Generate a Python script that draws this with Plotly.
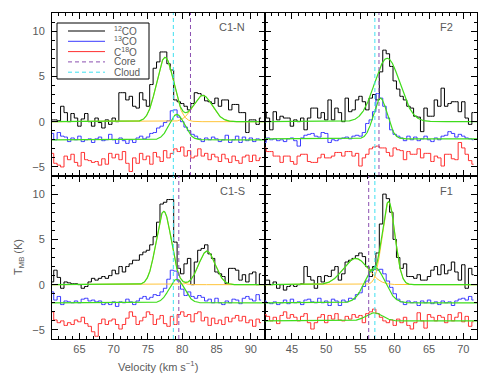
import numpy as np
import plotly.graph_objects as go
from plotly.subplots import make_subplots

# velocity channels (km/s), 0.5 km/s wide
chan = 0.5
v0_c1 = 61.0   # C1-N, C1-S panels
v0_f = 41.0    # F2, F1 panels

# ---- C1-N ----
c1n_12co = [0.2, 0.2, 0.1, 1.7, 1.0, 0.0, 0.9, 0.4, -0.5, 0.3,
            0.9, 0.0, -0.5, 0.4, -0.1, -0.7, 0.2, -0.3, 0.4, 0.0,
            3.2, 3.2, 2.4, 2.8, 1.7, 1.5, 3.2, 2.4, 1.7, 4.1,
            5.9, 6.6, 7.7, 7.7, 6.4, 5.7, 2.4, 2.2, 2.0, 1.7,
            1.3, 2.0, 3.2, 3.1, 2.9, 2.3, 2.2, 2.0, 2.6, 1.7,
            2.4, 2.4, 1.3, 1.9, 1.9, 1.0, 1.0, -1.2, 0.2, 0.2,
            -0.3, 0.4]
c1n_13co = [-1.3, -2.0, -1.2, -1.6, -1.7, -2.2, -1.8, -2.0, -1.6, -2.2,
            -2.0, -1.9, -2.3, -1.9, -1.7, -2.1, -2.0, -1.4, -2.0, -2.4,
            -1.8, -2.1, -2.4, -2.0, -2.3, -1.8, -1.6, -1.9, -1.7, -1.3,
            -1.2, -0.7, -0.5, -0.1, 0.1, 1.2, 1.3, 0.5, 0.0, -0.6,
            -1.0, -1.4, -1.6, -1.9, -2.2, -1.8, -2.0, -1.7, -1.9, -2.2,
            -2.0, -1.5, -2.3, -2.0, -1.6, -2.3, -1.7, -2.1, -1.8, -2.2,
            -1.9, -2.0]
c1n_c18o = [-3.5, -4.6, -4.8, -5.0, -3.8, -4.2, -3.6, -4.5, -4.9, -3.4,
            -4.2, -4.3, -4.5, -4.4, -4.8, -4.1, -4.7, -3.5, -4.0, -3.6,
            -4.2, -3.3, -4.6, -5.5, -4.0, -4.6, -3.5, -4.2, -3.8, -4.7,
            -3.4, -3.9, -4.4, -3.2, -4.0, -3.5, -3.0, -3.3, -2.8, -3.8,
            -3.2, -4.0, -3.8, -3.0, -3.8, -3.5, -4.2, -3.6, -3.9, -4.4,
            -3.6, -4.1, -4.5, -3.8, -4.3, -4.6, -3.9, -3.7, -4.4, -3.7,
            -4.3, -4.0]

# ---- F2 ----
f2_12co = [1.1, 0.4, -0.9, 1.1, 0.2, 0.6, 0.4, 0.4, -0.5, 0.2,
           0.0, 0.4, -0.9, 0.4, 1.5, 1.5, 0.4, 1.0, 0.2, 2.4,
           0.2, 1.5, 1.0, 0.0, 2.6, 1.1, 1.3, 2.4, 2.8, 2.2,
           1.3, 2.6, 3.0, 2.4, 5.5, 7.9, 7.5, 6.1, 4.5, 3.6,
           2.8, 2.4, 1.7, 1.5, 0.6, 0.5, -1.1, 1.5, 0.6, 0.6,
           2.4, 1.7, 3.7, 1.7, 2.0, 2.2, 2.2, 1.1, 2.2, 0.4,
           -0.3, 1.0]
f2_13co = [-2.3, -1.8, -2.0, -1.9, -2.1, -2.0, -2.2, -1.9, -1.8, -2.1,
           -2.7, -1.8, -1.5, -1.4, -1.3, -1.6, -1.7, -1.2, -1.3, -2.3,
           -2.0, -2.1, -1.9, -1.8, -1.7, -1.9, -1.6, -1.5, -1.6, -1.2,
           -0.2, 0.2, 1.1, 3.1, 2.6, 1.7, 0.4, -0.9, -1.4, -1.6,
           -1.8, -2.1, -1.6, -2.0, -1.7, -2.1, -1.9, -1.6, -2.0, -2.2,
           -1.8, -2.0, -1.6, -1.5, -1.1, -1.3, -1.7, -1.4, -1.6, -1.8,
           -1.9, -2.0]
f2_c18o = [-2.9, -3.3, -3.3, -3.8, -3.8, -4.5, -3.8, -3.8, -4.4, -4.7,
           -3.8, -3.6, -3.6, -4.4, -4.5, -4.5, -4.0, -3.6, -4.0, -4.0,
           -3.8, -3.4, -3.4, -3.8, -3.3, -3.3, -3.8, -3.5, -4.9, -4.0,
           -3.6, -3.0, -2.8, -2.7, -2.9, -2.9, -3.4, -3.8, -2.9, -3.1,
           -3.2, -4.2, -3.3, -3.6, -3.6, -3.0, -4.0, -3.5, -3.5, -4.4,
           -3.8, -4.0, -4.9, -3.6, -3.6, -4.1, -4.2, -2.3, -2.9, -3.6,
           -4.3, -4.7]

# ---- C1-S ----
c1s_12co = [0.3, 1.6, 0.8, -0.4, 0.3, 0.2, 0.1, 0.1, 0.0, -0.4,
            -0.2, 0.3, 0.7, 0.5, 0.7, 0.9, 0.7, 1.0, 1.6, 1.2,
            2.0, 1.4, 2.0, 2.3, 2.7, 2.7, 3.3, 3.6, 3.8, 4.4,
            5.3, 6.9, 8.9, 9.1, 9.4, 9.4, 4.7, 1.8, 1.2, 2.3,
            2.9, 0.0, 2.5, 3.8, 4.0, 4.4, 3.4, 2.9, 1.4, 1.2,
            0.9, 0.1, 1.8, 1.8, 1.6, 0.5, 1.1, 0.3, 1.2, 1.4,
            0.0, 1.2]
c1s_13co = [-0.8, -1.7, -1.3, -2.2, -1.8, -1.9, -2.0, -1.8, -2.0, -1.6,
            -1.5, -1.8, -1.7, -1.9, -1.8, -2.2, -2.0, -2.2, -1.9, -2.4,
            -1.9, -2.0, -1.6, -1.9, -2.2, -1.8, -1.5, -1.3, -1.6, -1.4,
            -1.1, -1.2, -0.8, -0.4, 0.6, 1.6, 1.5, 0.4, -0.5, -1.2,
            -0.8, -1.3, -1.5, -1.2, -1.4, -1.8, -1.6, -2.0, -1.5, -2.0,
            -2.2, -1.8, -2.0, -1.6, -1.7, -2.1, -1.5, -1.3, -1.6, -1.8,
            -1.1, -1.7]
c1s_c18o = [-3.0, -3.9, -4.2, -4.0, -4.5, -4.2, -4.4, -3.9, -4.1, -3.6,
            -4.3, -4.6, -5.2, -5.7, -4.3, -3.8, -4.4, -4.0, -3.8, -4.4,
            -4.9, -4.4, -3.7, -3.0, -3.5, -4.4, -4.0, -3.6, -3.0, -3.3,
            -4.4, -3.8, -3.4, -4.3, -4.6, -3.5, -4.4, -3.3, -3.0, -3.5,
            -3.3, -4.1, -3.2, -3.0, -4.0, -3.6, -4.5, -3.7, -4.3, -3.9,
            -4.4, -3.6, -4.1, -3.7, -3.4, -4.0, -3.5, -4.2, -3.9, -4.6,
            -3.8, -4.2]

# ---- F1 ----
f1_12co = [0.5, 0.5, 0.0, 0.3, -0.4, 0.0, -0.6, -0.2, 0.0, -0.2,
           0.0, 0.1, 2.0, 0.9, 0.5, -0.4, 0.9, 0.3, 1.0, 0.9,
           1.6, 2.0, 0.5, 1.2, 2.5, 2.7, 2.9, 3.2, 3.5, 3.1,
           2.0, 0.9, 2.0, 3.5, 6.7, 10.0, 9.5, 8.0, 5.0, 3.0,
           1.8, 2.3, 0.9, 0.9, 0.7, 1.1, 0.5, 0.5, 0.9, 1.6,
           2.0, 1.1, 2.2, 1.2, 1.6, 2.5, 1.4, 0.5, 2.2, -0.4,
           1.8, 1.1]
f1_13co = [-1.8, -2.0, -2.1, -1.9, -2.2, -2.0, -1.7, -2.1, -1.6, -2.0,
           -1.9, -2.2, -1.7, -1.6, -1.9, -2.0, -1.5, -2.0, -1.8, -2.3,
           -1.6, -1.8, -2.3, -1.7, -1.9, -1.5, -1.6, -1.1, -0.9, -0.2,
           0.4, 1.4, 1.7, 1.6, 1.7, 1.2, 0.4, -0.3, -1.0, -1.6,
           -1.9, -2.2, -1.8, -2.0, -1.9, -2.3, -1.8, -2.0, -1.7, -2.1,
           -1.9, -2.2, -1.8, -2.0, -1.9, -2.3, -1.8, -1.6, -1.5, -1.7,
           -1.3, -1.7]
f1_c18o = [-3.3, -3.5, -4.0, -3.6, -4.3, -3.4, -3.0, -3.7, -3.3, -3.6,
           -4.0, -3.5, -3.2, -4.2, -4.9, -4.2, -3.6, -3.3, -4.2, -3.4,
           -3.8, -3.2, -3.9, -4.0, -3.5, -3.8, -3.3, -3.6, -3.4, -4.2,
           -3.2, -3.0, -2.7, -3.2, -3.6, -4.0, -4.2, -3.9, -4.5, -3.8,
           -4.2, -3.6, -4.5, -4.9, -4.2, -3.1, -4.0, -4.8, -3.3, -3.6,
           -4.0, -3.4, -3.6, -4.2, -3.3, -4.0, -3.6, -3.1, -4.1, -3.5,
           -4.6, -4.1]

# Gaussian fit parameters: (amplitude K, centre km/s, sigma km/s), plus baseline
c1n_fit12 = [(7.1, 77.5, 1.25), (2.9, 83.0, 1.4)]
c1n_fit13 = [(2.8, 79.2, 1.1)]
f2_fit12 = [(7.0, 58.9, 1.85)]
f2_fit13 = [(4.5, 57.9, 1.0)]
c1s_fit12 = [(8.1, 77.3, 1.1), (3.7, 83.6, 1.2)]
c1s_fit13 = [(2.6, 79.2, 1.1)]
f1_fit12 = [(2.9, 54.3, 1.8), (9.1, 59.1, 0.93)]
f1_fit13 = [(3.9, 57.1, 1.45)]
f1_fit18 = [(0.9, 57.0, 1.2)]

# systemic velocities (km/s)
core_v = {"C1-N": 81.2, "F2": 57.7, "C1-S": 79.5, "F1": 56.2}
cloud_v = {"C1-N": 78.7, "F2": 57.1, "C1-S": 78.7, "F1": 57.1}

C12, C13, C18 = "#000000", "#3a3aff", "#ff3030"
GREEN, ORANGE = "#3fdc1c", "#ffc43a"
PURPLE, CYAN = "#8a4fb0", "#3fe0f0"
TXT = "#5a5a5a"

panels = [
    ("C1-N", 1, 1, v0_c1, [c1n_12co, c1n_13co, c1n_c18o], [(c1n_fit12, 0.0), (c1n_fit13, -2.0)]),
    ("F2", 1, 2, v0_f, [f2_12co, f2_13co, f2_c18o], [(f2_fit12, 0.0), (f2_fit13, -1.9)]),
    ("C1-S", 2, 1, v0_c1, [c1s_12co, c1s_13co, c1s_c18o], [(c1s_fit12, 0.0), (c1s_fit13, -2.0)]),
    ("F1", 2, 2, v0_f, [f1_12co, f1_13co, f1_c18o], [(f1_fit12, 0.0), (f1_fit13, -2.0), (f1_fit18, -4.0)]),
]

fig = make_subplots(rows=2, cols=2, horizontal_spacing=0, vertical_spacing=0)


def gauss(x, a, c, s):
    return a * np.exp(-0.5 * ((x - c) / s) ** 2)


for name, r, c, v0, specs, fits in panels:
    vel = v0 + chan * np.arange(len(specs[0]))
    xf = np.linspace(v0, v0 + 31, 1241)
    # spectra
    for vals, col in zip(specs, [C12, C13, C18]):
        fig.add_trace(go.Scatter(x=vel, y=vals, mode="lines", line_shape="hvh",
                                 line=dict(color=col, width=1), showlegend=False,
                                 hoverinfo="skip"), row=r, col=c)
    # fits
    for comps, base in fits:
        if len(comps) > 1:
            for a, cc, s in comps:
                fig.add_trace(go.Scatter(x=xf, y=base + gauss(xf, a, cc, s), mode="lines",
                                         line=dict(color=ORANGE, width=1), showlegend=False,
                                         hoverinfo="skip"), row=r, col=c)
        tot = base + sum(gauss(xf, a, cc, s) for a, cc, s in comps)
        fig.add_trace(go.Scatter(x=xf, y=tot, mode="lines",
                                 line=dict(color=GREEN, width=1.2), showlegend=False,
                                 hoverinfo="skip"), row=r, col=c)
    # core / cloud velocities
    for vv, col in [(core_v[name], PURPLE), (cloud_v[name], CYAN)]:
        fig.add_trace(go.Scatter(x=[vv, vv], y=[-6, 12], mode="lines",
                                 line=dict(color=col, width=1, dash="4px,3px"),
                                 showlegend=False, hoverinfo="skip"), row=r, col=c)

axis_common = dict(showline=True, linecolor="black", linewidth=1, mirror="allticks",
                   ticks="inside", ticklen=6, tickcolor="black", tickwidth=1,
                   dtick=5, tick0=0, showgrid=False, zeroline=False,
                   minor=dict(ticks="inside", dtick=1, ticklen=3, tickcolor="black"),
                   tickfont=dict(color=TXT, size=11))

for r in (1, 2):
    for c in (1, 2):
        fig.update_xaxes(axis_common, range=[61, 92] if c == 1 else [41, 72],
                         showticklabels=(r == 2), row=r, col=c)
        fig.update_yaxes(axis_common, range=[-6, 12], showticklabels=(c == 1),
                         ticklabelstandoff=4, row=r, col=c)

# pixel helpers for the frame (plot area 52..477 x 13..339)
L, R, T, B = 52, 477, 13, 339


def px(x):
    return (x - L) / (R - L)


def py(y):
    return (B - y) / (B - T)


ann = []
for name, xr, yr in [("C1-N", 247, 27), ("F2", 455, 27), ("C1-S", 247, 191), ("F1", 455, 191)]:
    ann.append(dict(x=px(xr), y=py(yr), xref="paper", yref="paper", text=name,
                    showarrow=False, xanchor="right", yanchor="middle",
                    font=dict(color=TXT, size=11)))

ann.append(dict(x=px(158), y=py(366), xref="paper", yref="paper",
                text="Velocity (km s<sup>\u22121</sup>)", showarrow=False,
                xanchor="center", yanchor="middle", font=dict(color=TXT, size=11)))
ann.append(dict(x=px(19), y=py(257), xref="paper", yref="paper",
                text="T<sub>MB</sub> (K)", showarrow=False, textangle=-90,
                xanchor="center", yanchor="middle", font=dict(color=TXT, size=11)))

# legend box drawn by hand
shapes = [dict(type="rect", xref="paper", yref="paper", x0=px(57), x1=px(149),
               y0=py(79), y1=py(23), line=dict(color="black", width=1), fillcolor="white",
               layer="above")]
leg_items = [("<sup>12</sup>CO", C12, "solid"), ("<sup>13</sup>CO", C13, "solid"),
             ("C<sup>18</sup>O", C18, "solid"), ("Core", PURPLE, "4px,3px"),
             ("Cloud", CYAN, "4px,3px")]
for i, (lab, col, dash) in enumerate(leg_items):
    yy = 31 + i * 10.3
    shapes.append(dict(type="line", xref="paper", yref="paper", x0=px(68), x1=px(105),
                       y0=py(yy), y1=py(yy), line=dict(color=col, width=1, dash=dash),
                       layer="above"))
    ann.append(dict(x=px(112), y=py(yy), xref="paper", yref="paper", text=lab,
                    showarrow=False, xanchor="left", yanchor="middle",
                    font=dict(color=TXT, size=10)))

fig.update_layout(width=485, height=387,
                  margin=dict(l=L, r=485 - R, t=T, b=387 - B),
                  paper_bgcolor="white", plot_bgcolor="white",
                  font=dict(family="Liberation Sans, Arial, sans-serif", size=11, color=TXT),
                  showlegend=False, annotations=ann, shapes=shapes)

fig.write_html("out.html", config={"displayModeBar": False},
               post_script="document.body.style.margin='0';")
